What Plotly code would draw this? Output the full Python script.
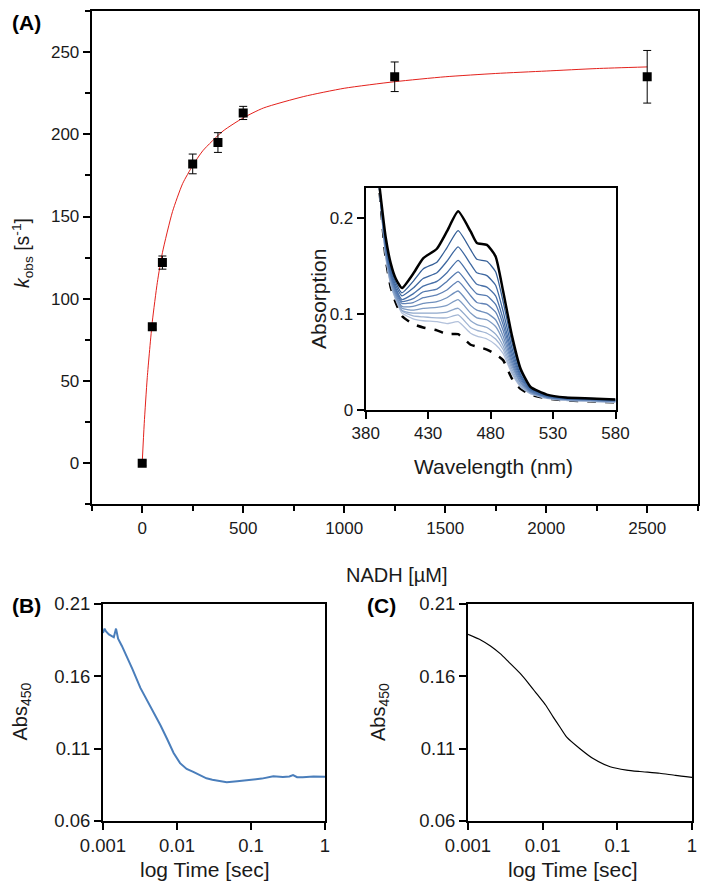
import plotly.graph_objects as go

# ---------------- Panel A data ----------------
nadh_uM = [0, 50, 100, 250, 375, 500, 1250, 2500]
kobs = [0, 83, 122, 182, 195, 213, 235, 235]
kobs_err = [1.5, 1.5, 4, 6, 6, 4, 9, 16]

fit_x = [0, 10, 25, 50, 75, 100, 150, 200, 250, 300, 400, 500, 600, 800, 1000, 1250, 1500, 1750, 2000, 2250, 2500]
fit_y = [0, 24, 52, 86, 110, 128, 153, 170, 181, 190, 202, 210, 216, 223, 228, 232, 235, 237, 238.5, 240, 241]

# ---------------- Inset spectra ----------------
wavelength = [390, 396, 400, 404, 409, 418, 426, 437, 445, 454, 464, 469, 477, 484, 490, 497, 504, 512, 525, 540, 560, 580]
spec_oxidized = [0.245, 0.180, 0.153, 0.137, 0.127, 0.142, 0.158, 0.168, 0.186, 0.207, 0.186, 0.174, 0.172, 0.160, 0.124, 0.078, 0.043, 0.024, 0.016, 0.013, 0.012, 0.011]
spec_reduced = [0.245, 0.158, 0.128, 0.112, 0.098, 0.0895, 0.086, 0.083, 0.079, 0.079, 0.068, 0.066, 0.063, 0.058, 0.052, 0.033, 0.022, 0.016, 0.012, 0.010, 0.009, 0.008]
spec_mid = [
    [0.245, 0.177, 0.149, 0.133, 0.122, 0.134, 0.147, 0.154, 0.169, 0.187, 0.167, 0.157, 0.155, 0.144, 0.113, 0.071, 0.040, 0.023, 0.015, 0.013, 0.012, 0.011],
    [0.245, 0.174, 0.146, 0.130, 0.119, 0.127, 0.137, 0.143, 0.155, 0.170, 0.152, 0.143, 0.140, 0.130, 0.103, 0.065, 0.037, 0.022, 0.015, 0.012, 0.011, 0.010],
    [0.245, 0.171, 0.143, 0.127, 0.115, 0.121, 0.129, 0.134, 0.143, 0.156, 0.139, 0.131, 0.128, 0.119, 0.095, 0.060, 0.035, 0.021, 0.014, 0.012, 0.011, 0.010],
    [0.245, 0.169, 0.141, 0.125, 0.113, 0.116, 0.123, 0.126, 0.134, 0.144, 0.128, 0.121, 0.119, 0.110, 0.089, 0.056, 0.033, 0.020, 0.014, 0.012, 0.011, 0.010],
    [0.245, 0.168, 0.139, 0.123, 0.111, 0.112, 0.117, 0.120, 0.125, 0.134, 0.119, 0.112, 0.110, 0.102, 0.083, 0.052, 0.031, 0.019, 0.014, 0.011, 0.010, 0.009],
    [0.245, 0.166, 0.137, 0.121, 0.108, 0.108, 0.111, 0.113, 0.117, 0.124, 0.109, 0.104, 0.101, 0.094, 0.077, 0.049, 0.029, 0.019, 0.013, 0.011, 0.010, 0.009],
    [0.245, 0.164, 0.135, 0.119, 0.106, 0.104, 0.106, 0.107, 0.109, 0.115, 0.101, 0.096, 0.094, 0.087, 0.072, 0.046, 0.028, 0.018, 0.013, 0.011, 0.010, 0.009],
    [0.245, 0.163, 0.133, 0.117, 0.104, 0.101, 0.101, 0.101, 0.102, 0.106, 0.093, 0.089, 0.086, 0.079, 0.067, 0.043, 0.026, 0.018, 0.013, 0.011, 0.010, 0.009],
    [0.245, 0.161, 0.132, 0.116, 0.103, 0.098, 0.097, 0.096, 0.096, 0.099, 0.086, 0.083, 0.080, 0.074, 0.063, 0.040, 0.025, 0.017, 0.013, 0.010, 0.009, 0.008],
    [0.245, 0.160, 0.131, 0.115, 0.101, 0.095, 0.093, 0.092, 0.090, 0.092, 0.080, 0.077, 0.074, 0.068, 0.059, 0.038, 0.024, 0.017, 0.012, 0.010, 0.009, 0.008],
]
mid_colors = ["#345e96", "#3d67a0", "#4870a8", "#5479af", "#6283b6", "#7090bd", "#7f9cc4", "#8fa8cb", "#a0b4d3", "#b2c1db"]

# ---------------- Panel B data ----------------
time_b = [0.001, 0.00105, 0.0011, 0.0012, 0.0013, 0.0014, 0.0015, 0.0016, 0.0018, 0.0021, 0.0025, 0.0032,
          0.004, 0.0048, 0.006, 0.0073, 0.009, 0.011, 0.0135, 0.0166, 0.02, 0.025, 0.03, 0.035, 0.047,
          0.065, 0.08, 0.1, 0.14, 0.2, 0.27, 0.33, 0.37, 0.42, 0.5, 0.7, 0.85, 1.0]
abs_b = [0.190, 0.193, 0.191, 0.189, 0.188, 0.187, 0.193, 0.186, 0.181, 0.174, 0.165, 0.152,
         0.143, 0.135, 0.126, 0.117, 0.107, 0.100, 0.096, 0.094, 0.092, 0.0895, 0.0885, 0.0878, 0.0868,
         0.0875, 0.0880, 0.0885, 0.0893, 0.0910, 0.0905, 0.0908, 0.0918, 0.0903, 0.0902, 0.0907, 0.0904, 0.0906]

# ---------------- Panel C data ----------------
time_c = [0.001, 0.0015, 0.002, 0.0027, 0.0035, 0.005, 0.0065, 0.0083, 0.011, 0.0138, 0.017, 0.021,
          0.0316, 0.048, 0.08, 0.133, 0.2, 0.37, 0.6, 1.0]
abs_c = [0.189, 0.185, 0.181, 0.1757, 0.170, 0.162, 0.155, 0.148, 0.140, 0.132, 0.125, 0.118,
         0.110, 0.103, 0.0975, 0.0952, 0.0942, 0.093, 0.0915, 0.0902]

FONT = "Liberation Sans, Arial, sans-serif"
PAGE_OFF = 8          # default body margin of the page
W, H = 709 - PAGE_OFF, 885 - PAGE_OFF

def px_x(p):
    return (p - PAGE_OFF) / W

def px_y(p):
    return 1 - (p - PAGE_OFF) / H

fig = go.Figure()

# Panel A
fig.add_trace(go.Scatter(x=fit_x, y=fit_y, mode="lines", line=dict(color="#e3211c", width=1, shape="spline", smoothing=0.6),
                         xaxis="x", yaxis="y", showlegend=False, hoverinfo="skip"))
fig.add_trace(go.Scatter(x=nadh_uM, y=kobs, mode="markers",
                         marker=dict(symbol="square", size=9, color="black"),
                         error_y=dict(type="data", array=kobs_err, color="black", thickness=1, width=4),
                         xaxis="x", yaxis="y", showlegend=False))

# Inset
fig.add_trace(go.Scatter(x=wavelength, y=spec_reduced, mode="lines",
                         line=dict(color="black", width=2.5, dash="dash", shape="spline", smoothing=0.5),
                         xaxis="x2", yaxis="y2", showlegend=False))
for vals, col in zip(reversed(spec_mid), reversed(mid_colors)):
    fig.add_trace(go.Scatter(x=wavelength, y=vals, mode="lines",
                             line=dict(color=col, width=1.3, shape="spline", smoothing=0.5),
                             xaxis="x2", yaxis="y2", showlegend=False))
fig.add_trace(go.Scatter(x=wavelength, y=spec_oxidized, mode="lines",
                         line=dict(color="black", width=2.5, shape="spline", smoothing=0.5),
                         xaxis="x2", yaxis="y2", showlegend=False))

# Panel B
fig.add_trace(go.Scatter(x=time_b, y=abs_b, mode="lines", line=dict(color="#4a7ebb", width=2),
                         xaxis="x3", yaxis="y3", showlegend=False))
# Panel C
fig.add_trace(go.Scatter(x=time_c, y=abs_c, mode="lines", line=dict(color="black", width=1.2, shape="spline", smoothing=0.6),
                         xaxis="x4", yaxis="y4", showlegend=False))

common = dict(showline=True, linecolor="black", linewidth=2, mirror=True, ticks="outside",
              ticklen=7, tickwidth=1.5, tickcolor="black", showgrid=False, zeroline=False,
              automargin=False)

tickfA = dict(family=FONT, size=17, color="#1a1a1a")
tickfB = dict(family=FONT, size=18.5, color="#1a1a1a")

fig.update_layout(
    template="none",
    width=W, height=H, margin=dict(l=0, r=0, t=0, b=0, pad=0),
    paper_bgcolor="white", plot_bgcolor="white",
    xaxis=dict(domain=[px_x(91.7), px_x(697.7)], range=[-250, 2750], dtick=500, tick0=0,
               minor=dict(dtick=250, tick0=0, ticks="outside", ticklen=5, tickwidth=1.5, tickcolor="black"),
               tickfont=tickfA, anchor="y", **common),
    yaxis=dict(domain=[px_y(504.3), px_y(11)], range=[-25, 275], dtick=50, tick0=0,
               minor=dict(dtick=25, tick0=0, ticks="outside", ticklen=5, tickwidth=1.5, tickcolor="black"),
               tickfont=tickfA, anchor="x", **common),
    xaxis2=dict(domain=[px_x(365.7), px_x(615.5)], range=[380, 580], tickvals=[380, 430, 480, 530, 580],
                tickfont=tickfA, anchor="y2", **common),
    yaxis2=dict(domain=[px_y(410), px_y(188.3)], range=[0, 0.231], tickvals=[0, 0.1, 0.2],
                ticktext=["0", "0.1", "0.2"], tickfont=tickfA, anchor="x2", **common),
    xaxis3=dict(domain=[px_x(103), px_x(325)], type="log", range=[-3, 0],
                tickvals=[0.001, 0.01, 0.1, 1], ticktext=["0.001", "0.01", "0.1", "1"],
                tickfont=tickfB, anchor="y3", **common),
    yaxis3=dict(domain=[px_y(821), px_y(604)], range=[0.06, 0.21], tickvals=[0.06, 0.11, 0.16, 0.21],
                ticktext=["0.06", "0.11", "0.16", "0.21"], tickfont=tickfB, anchor="x3", **common),
    xaxis4=dict(domain=[px_x(468), px_x(692)], type="log", range=[-3, 0],
                tickvals=[0.001, 0.01, 0.1, 1], ticktext=["0.001", "0.01", "0.1", "1"],
                tickfont=tickfB, anchor="y4", **common),
    yaxis4=dict(domain=[px_y(821), px_y(604)], range=[0.06, 0.21], tickvals=[0.06, 0.11, 0.16, 0.21],
                ticktext=["0.06", "0.11", "0.16", "0.21"], tickfont=tickfB, anchor="x4", **common),
)

titlef = dict(family=FONT, size=20, color="#1a1a1a")
titlef21 = dict(family=FONT, size=21, color="#1a1a1a")
labf = dict(family=FONT, size=21, color="black")

ann = [
    dict(text="<b>(A)</b>", x=px_x(9.5), y=px_y(22), font=labf, xanchor="left"),
    dict(text="<b>(B)</b>", x=px_x(9.5), y=px_y(605), font=labf, xanchor="left"),
    dict(text="<b>(C)</b>", x=px_x(382), y=px_y(605), font=labf),
    dict(text="NADH [µM]", x=px_x(397), y=px_y(575), font=titlef),
    dict(text="<i>k</i><sub>obs</sub> [s<sup>-1</sup>]", x=px_x(22), y=px_y(253),
         font=dict(family=FONT, size=19.5, color="#1a1a1a"), textangle=-90),
    dict(text="Wavelength (nm)", x=px_x(493), y=px_y(467), font=titlef21),
    dict(text="Absorption", x=px_x(318), y=px_y(299), font=titlef21, textangle=-90),
    dict(text="log Time [sec]", x=px_x(205), y=px_y(869), font=titlef21),
    dict(text="log Time [sec]", x=px_x(573), y=px_y(869), font=titlef21),
    dict(text="Abs<sub>450</sub>", x=px_x(20.5), y=px_y(712), font=titlef, textangle=-90),
    dict(text="Abs<sub>450</sub>", x=px_x(379), y=px_y(712), font=titlef, textangle=-90),
]
for a in ann:
    a.setdefault("xanchor", "center")
    a.update(xref="paper", yref="paper", showarrow=False, yanchor="middle")
fig.update_layout(annotations=ann)

fig.write_html("out.html")
